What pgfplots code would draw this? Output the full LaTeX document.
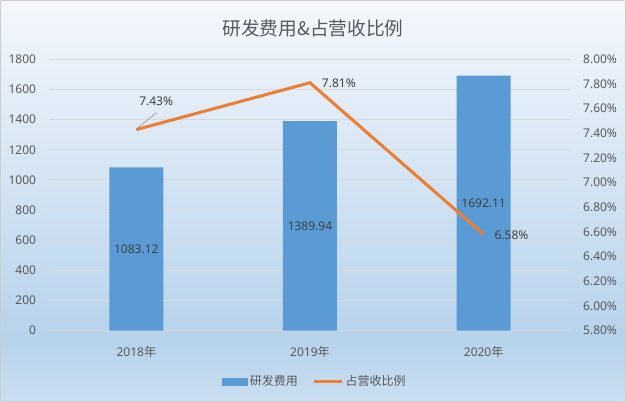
\documentclass[border=0pt]{standalone}
\usepackage{pgfplots}
\pgfplotsset{compat=1.18}
\usepackage{fontspec}
\setmainfont{Noto Sans}
\newfontfamily\cjk{Noto Sans CJK SC}
\definecolor{barblue}{HTML}{5B9BD5}
\definecolor{lineorange}{HTML}{ED7D31}
\definecolor{txt}{HTML}{595959}
\definecolor{lbl}{HTML}{404040}
\definecolor{gridc}{HTML}{D9D9D9}
\definecolor{bgtop}{HTML}{F4F8FC}
\definecolor{bgmid}{HTML}{B6D2EB}
\definecolor{bgbot}{HTML}{CBDFF1}
\begin{document}
\begin{tikzpicture}
\shade[bottom color=bgmid, top color=bgtop] (0pt,46.4pt) rectangle (469.5pt,301.5pt);
\shade[bottom color=bgbot, top color=bgmid] (0pt,0pt) rectangle (469.5pt,46.5pt);
\draw[gray!40, line width=0.6pt, rounded corners=1.5pt] (0.3pt,0.3pt) rectangle (469.2pt,301.2pt);
\node[text=txt, font=\cjk\fontsize{14}{16}\selectfont] at (234.75pt,280.3pt) {研发费用\&占营收比例};
\begin{axis}[
  at={(37.1pt,53.6pt)}, anchor=south west,
  scale only axis, width=390.75pt, height=203.4pt,
  xmin=-0.5, xmax=2.5, ymin=0, ymax=1800,
  xtick={0,1,2},
  xticklabels={2018{\cjk 年},2019{\cjk 年},2020{\cjk 年}},
  ytick={0,200,400,600,800,1000,1200,1400,1600,1800},
  axis line style={draw=none}, major tick length=0pt, tick style={draw=none},
  ymajorgrids, grid style={gridc, line width=0.75pt},
  tick label style={text=txt, font=\fontsize{9}{11}\selectfont},
  /pgf/number format/assume math mode=true,
  /pgf/number format/1000 sep={},
  yticklabel style={xshift=-6.5pt},
  xticklabel style={yshift=-8pt},
  clip=false,
]
\addplot[ybar, bar width=40.5pt, fill=barblue, draw=none] coordinates {(0,1083.12) (1,1389.94) (2,1692.11)};
\addplot[draw=none, mark=none, nodes near coords, point meta=explicit symbolic,
  nodes near coords style={anchor=center, text=lbl, inner sep=0pt, font=\fontsize{9}{11}\selectfont}]
  coordinates {(0,541.56)[1083.12] (1,694.97)[1389.94] (2,846.06)[1692.11]};
\end{axis}
\begin{axis}[
  at={(37.1pt,53.6pt)}, anchor=south west,
  scale only axis, width=390.75pt, height=203.4pt,
  xmin=-0.5, xmax=2.5, ymin=5.8, ymax=8.0,
  axis y line*=right, axis x line=none, xtick=\empty,
  ytick={5.8,6.0,6.2,6.4,6.6,6.8,7.0,7.2,7.4,7.6,7.8,8.0},
  yticklabel={\pgfmathprintnumber[fixed,fixed zerofill,precision=2]{\tick}\%},
  axis line style={draw=none}, major tick length=0pt, tick style={draw=none},
  tick label style={text=txt, font=\fontsize{9}{11}\selectfont},
  /pgf/number format/assume math mode=true,
  yticklabel style={xshift=6pt},
  clip=false,
  legend style={at={(0.5096,-0.189)}, anchor=center, draw=none, fill=none,
    legend columns=2, font=\cjk\fontsize{9}{11}\selectfont, text=txt,
    /tikz/every even column/.append style={column sep=9pt}},
]
\addlegendimage{legend image code/.code={\fill[barblue] (0pt,-2.6pt) rectangle (18.75pt,2.6pt);}}
\addlegendentry{研发费用}
\addplot[lineorange, line width=2.25pt, mark=none,
  legend image code/.code={\draw[lineorange,line width=2.25pt] (0pt,0pt) -- (20.7pt,0pt);}]
  coordinates {(0,7.43) (1,7.81) (2,6.58)};
\addlegendentry{占营收比例}
\addplot[forget plot, draw=none, mark=none, nodes near coords={7.43\%},
  nodes near coords style={anchor=center, xshift=14.9pt, yshift=21pt, inner sep=0pt, text=lbl, font=\fontsize{9}{11}\selectfont}]
  coordinates {(0,7.43)};
\addplot[forget plot, draw=none, mark=none, nodes near coords={7.81\%},
  nodes near coords style={anchor=west, xshift=8.8pt, yshift=-0.7pt, inner sep=0pt, text=lbl, font=\fontsize{9}{11}\selectfont}]
  coordinates {(1,7.81)};
\addplot[forget plot, draw=none, mark=none, nodes near coords={6.58\%},
  nodes near coords style={anchor=west, xshift=8pt, yshift=-0.7pt, inner sep=0pt, text=lbl, font=\fontsize{9}{11}\selectfont}]
  coordinates {(2,6.58)};
\draw[gray!80, line width=0.5pt] ([xshift=1pt,yshift=1.3pt]axis cs:0,7.43) -- ([xshift=15.2pt,yshift=12.75pt]axis cs:0,7.43);
\end{axis}
\end{tikzpicture}
\end{document}
